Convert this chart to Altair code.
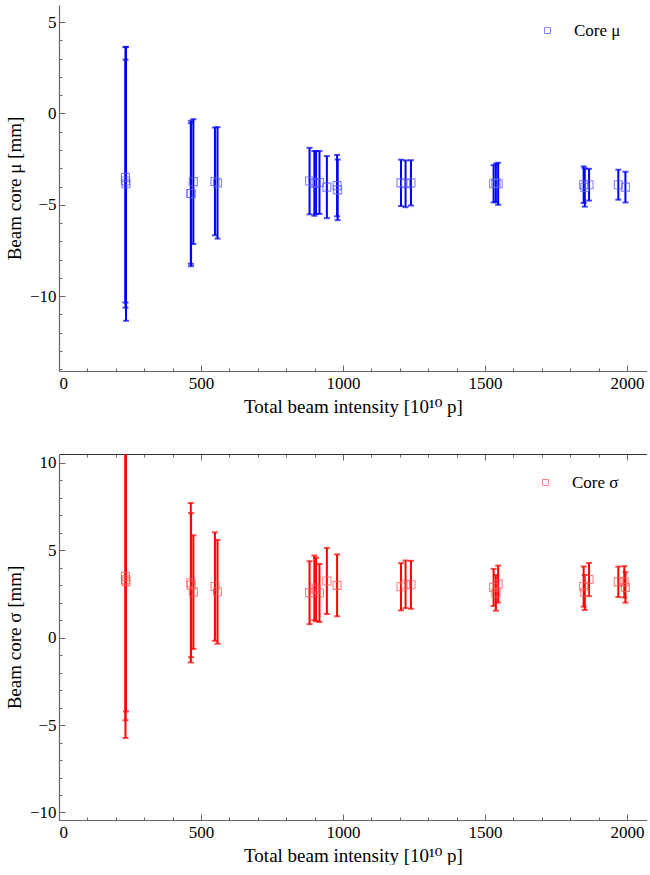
import altair as alt
import pandas as pd

# ---- data ----
intensity_mu = [234, 234, 236, 464, 465, 473, 549, 558, 882, 899, 905, 917, 943, 979, 981,
                1204, 1220, 1239, 1530, 1538, 1546, 1847, 1851, 1866, 1969, 1994]
core_mu = [-3.5, -3.7, -3.85, -4.38, -4.38, -3.73, -3.72, -3.8, -3.7, -3.83, -3.78, -3.78, -4.03,
           -3.95, -4.18, -3.8, -3.85, -3.8, -3.85, -3.8, -3.85, -3.9, -4.05, -3.9, -3.9, -4.03]
err_mu = [7.13, 6.65, 7.5, 3.85, 3.98, 3.42, 2.95, 3.05, 1.82, 1.77, 1.72, 1.72, 1.7, 1.68, 1.66,
          1.27, 1.28, 1.24, 1.02, 1.05, 1.15, 1.0, 1.05, 0.87, 0.82, 0.84]

intensity_sigma = [234, 234, 236, 464, 465, 473, 549, 558, 882, 899, 905, 917, 943, 979,
                   1204, 1220, 1239, 1530, 1538, 1546, 1847, 1851, 1866, 1969, 1990, 1994]
core_sigma = [3.5, 3.3, 3.2, 3.14, 3.0, 2.6, 2.92, 2.62, 2.57, 2.84, 2.75, 2.55, 3.24, 2.99,
              2.91, 3.05, 3.02, 2.87, 2.56, 3.06, 2.92, 2.58, 3.32, 3.19, 3.19, 2.87]
err_sigma = [9.24, 8.03, 7.42, 4.56, 4.12, 3.25, 3.1, 2.97, 1.8, 1.85, 1.82, 1.66, 1.89, 1.77,
             1.35, 1.36, 1.37, 1.06, 1.02, 1.06, 1.15, 1.0, 0.95, 0.87, 0.9, 0.87]

x_label_values = [0, 500, 1000, 1500, 2000]
x_tick_values = list(range(0, 2001, 100))
mu_label_values = [5, 0, -5, -10]
mu_tick_values = list(range(-14, 6))
sigma_label_values = [10, 5, 0, -5, -10]
sigma_tick_values = list(range(-10, 11))

FONT = "Times New Roman, Liberation Serif, DejaVu Serif, serif"
AXC = "#666666"
W, H = 588, 366
XDOM = [0, 2070]


def panel(x, v, e, series, color, light, ytitle, ydomain, ylabels, yticks, legx, legy, top_line):
    df = pd.DataFrame({"x": x, "v": v, "e": e, "series": series})
    base = alt.Chart(df).transform_calculate(lo="datum.v - datum.e", hi="datum.v + datum.e")
    xs = alt.Scale(domain=XDOM, nice=False, zero=False)
    ys = alt.Scale(domain=ydomain, nice=False, zero=False)
    xmaj = {"condition": {"test": "datum.value % 500 === 0", "value": 6}, "value": 3}
    ymaj = {"condition": {"test": "datum.value % 5 === 0", "value": 6}, "value": 3}

    rules = base.mark_rule(color=color, strokeWidth=2, clip=True).encode(
        x=alt.X("x:Q", scale=xs, axis=alt.Axis(
            orient="bottom", values=x_label_values, format="d", ticks=False, tickSize=0,
            title="Total beam intensity [10¹⁰ p]", labelPadding=4, titlePadding=6,
            domainColor=AXC, domainWidth=1.2)),
        y=alt.Y("lo:Q", scale=ys, axis=alt.Axis(
            orient="left", values=ylabels, format="d", ticks=False, tickSize=0, title=ytitle,
            labelPadding=3, titlePadding=5, domainColor=AXC, domainWidth=1.2)),
        y2="hi:Q",
    )
    caps_lo = base.mark_tick(color=color, thickness=2, size=6, orient="horizontal", clip=True).encode(
        x=alt.X("x:Q", scale=xs, axis=alt.Axis(
            orient="top", offset=-H, values=x_tick_values, labels=False, domain=False,
            title=None, tickSize=xmaj, tickColor=AXC)),
        y=alt.Y("lo:Q", scale=ys, axis=alt.Axis(
            orient="right", offset=-W, values=yticks, labels=False, domain=False,
            title=None, tickSize=ymaj, tickColor=AXC)),
    )
    if top_line:
        xtop = alt.Axis(orient="bottom", offset=-H, values=x_tick_values, labels=False,
                        domain=True, domainColor="#333333", domainWidth=1.2,
                        title=None, tickSize=xmaj, tickColor=AXC)
    else:
        xtop = None
    caps_hi = base.mark_tick(color=color, thickness=2, size=6, orient="horizontal", clip=True).encode(
        x=alt.X("x:Q", scale=xs, axis=xtop),
        y=alt.Y("hi:Q", scale=ys, axis=None),
    )
    pts = base.mark_point(shape="square", filled=False, size=64, strokeWidth=1.1,
                          opacity=0.75, clip=True).encode(
        x=alt.X("x:Q", scale=xs, axis=None),
        y=alt.Y("v:Q", scale=ys, axis=None),
        color=alt.Color("series:N", scale=alt.Scale(domain=[series[0]], range=[light]),
                        legend=alt.Legend(orient="none", legendX=legx, legendY=legy, title=None,
                                          symbolType="square", symbolSize=36,
                                          symbolStrokeWidth=1, labelOffset=18,
                                          labelFont=FONT, labelFontSize=17, padding=0)),
    )
    return alt.layer(rules, caps_lo, caps_hi, pts).resolve_axis(
        x="independent", y="independent").properties(width=W, height=H)


top = panel(intensity_mu, core_mu, err_mu, ["Core μ"] * len(intensity_mu), "#0000ff", "#5a5aff",
            "Beam core μ [mm]", [-14.1, 5.94], mu_label_values, mu_tick_values,
            480, 17, False)
bottom = panel(intensity_sigma, core_sigma, err_sigma, ["Core σ"] * len(intensity_sigma), "#ff0000",
               "#ff5a5a", "Beam core σ [mm]", [-10.43, 10.5], sigma_label_values,
               sigma_tick_values, 478, 20, True)

chart = alt.vconcat(top, bottom, spacing=37).resolve_scale(
    x="independent", y="independent", color="independent"
).properties(
    padding={"left": 5, "top": 5, "right": 0, "bottom": 0}
).configure_view(stroke=None).configure_axis(
    grid=False, labelFont=FONT, labelFontSize=17, labelColor="black",
    titleFont=FONT, titleFontSize=19, titleFontWeight="normal", titleColor="black"
).configure_legend(labelFont=FONT, labelFontSize=17, labelColor="black")

chart.save("out.html", embed_options={"renderer": "svg", "actions": False})
